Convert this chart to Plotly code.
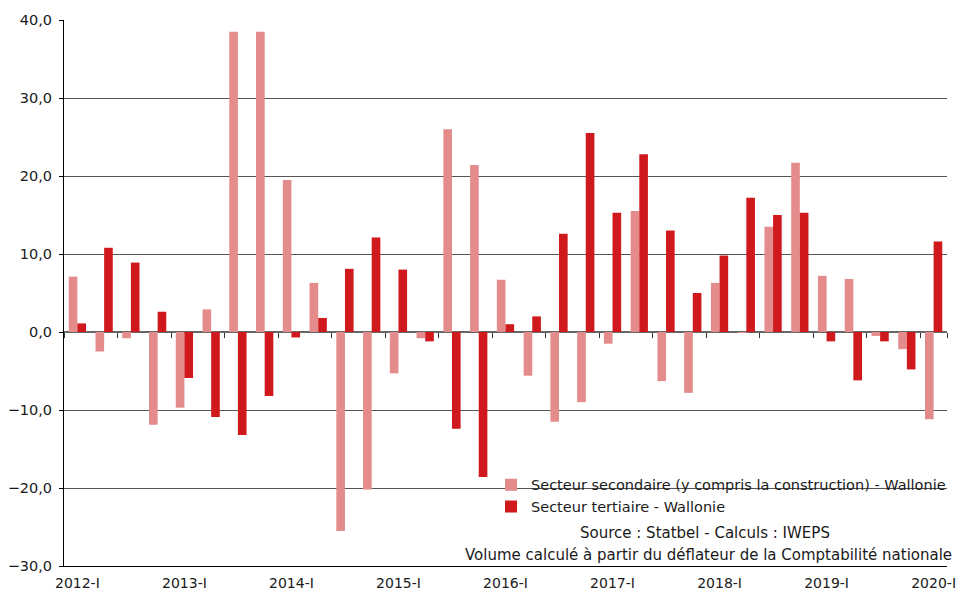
import plotly.graph_objects as go

# quarters 2012-I .. 2020-I
years = list(range(2012, 2021))
quarters = ["I", "II", "III", "IV"]
periods = [f"{y}-{q}" for y in years for q in quarters][:33]

secondaire = [7.1, -2.5, -0.8, -11.9, -9.7, 2.9, 38.5, 38.5,
              19.5, 6.3, -25.5, -20.2, -5.3, -0.8, 26.0, 21.4,
              6.7, -5.6, -11.5, -9.0, -1.5, 15.5, -6.3, -7.8,
              6.3, -0.1, 13.5, 21.7, 7.2, 6.8, -0.5, -2.2, -11.2]
tertiaire = [1.1, 10.8, 8.9, 2.6, -5.9, -10.9, -13.2, -8.2,
             -0.7, 1.8, 8.1, 12.1, 8.0, -1.2, -12.4, -18.6,
             1.0, 2.0, 12.6, 25.5, 15.3, 22.8, 13.0, 5.0,
             9.8, 17.2, 15.0, 15.3, -1.2, -6.2, -1.2, -4.8, 11.6]

tick_vals = periods[::2]

FONT = "DejaVu Sans"

fig = go.Figure()
fig.add_trace(go.Bar(x=periods, y=secondaire, name="Secteur secondaire (y compris la construction) - Wallonie",
                     marker_color="#E48B8B", marker_line_width=0))
fig.add_trace(go.Bar(x=periods, y=tertiaire, name="Secteur tertiaire - Wallonie",
                     marker_color="#CF191C", marker_line_width=0))

# the page body has an 8px margin, so the figure is 8px smaller on each side
fig.update_layout(
    template="none",
    width=958,
    height=586,
    autosize=False,
    margin=dict(l=56, r=19, t=12, b=28, pad=0),
    barmode="group",
    bargap=0.355,
    bargroupgap=0,
    separators=", ",
    font=dict(family=FONT, size=14, color="#1a1a1a"),
    plot_bgcolor="white",
    paper_bgcolor="white",
    showlegend=True,
    legend=dict(x=0.4836, y=0.178, xanchor="left", yanchor="top",
                bgcolor="rgba(0,0,0,0)", font=dict(size=14.5),
                itemsizing="constant", tracegroupgap=0, itemwidth=30),
)

fig.update_xaxes(
    type="category",
    categoryarray=periods,
    range=[-0.5, 32.5],
    tickmode="array",
    tickvals=periods[::4],
    ticktext=periods[::4],
    ticks="",
    ticklabelstandoff=4,
    showgrid=False,
    zeroline=False,
    showline=True,
    linecolor="black",
    linewidth=1,
    automargin=False,
    tickfont=dict(size=14),
)

fig.update_yaxes(
    range=[-30, 40],
    dtick=10,
    tickformat=".1f",
    ticks="outside",
    ticklen=4,
    tickcolor="black",
    ticklabelstandoff=4,
    showline=True,
    linecolor="black",
    linewidth=1,
    gridcolor="#555555",
    gridwidth=1.3,
    zeroline=True,
    zerolinecolor="#666666",
    zerolinewidth=1.5,
    automargin=False,
    tickfont=dict(size=14.5),
)

# secondary axis to draw tick marks on the zero line
fig.update_layout(
    xaxis2=dict(
        type="category",
        categoryarray=periods,
        range=[-0.5, 32.5],
        overlaying="x",
        anchor="free",
        position=3 / 7,
        side="bottom",
        tickmode="array",
        tickvals=tick_vals,
        ticktext=["" for _ in tick_vals],
        tickson="boundaries",
        ticks="outside",
        ticklen=5,
        tickcolor="#333",
        showgrid=False,
        zeroline=False,
        showline=False,
        showticklabels=False,
        automargin=False,
    )
)
fig.add_trace(go.Bar(x=periods, y=[0] * len(periods), xaxis="x2", showlegend=False,
                     hoverinfo="skip", marker_color="rgba(0,0,0,0)"))

# white box behind the legend and notes
fig.add_shape(type="rect", xref="paper", yref="paper", x0=0.4847, x1=1.02, y0=0.006, y1=0.18,
              fillcolor="white", line_width=0, layer="between")

fig.add_annotation(text="Source : Statbel - Calculs : IWEPS", xref="paper", yref="paper",
                   x=(705 - 64) / 883, y=(566 - 533) / 546, xanchor="center", yanchor="middle",
                   showarrow=False, font=dict(size=15))
fig.add_annotation(text="Volume calculé à partir du déflateur de la Comptabilité nationale",
                   xref="paper", yref="paper",
                   x=(708 - 64) / 883, y=(566 - 555) / 546, xanchor="center", yanchor="middle",
                   showarrow=False, font=dict(size=15))

fig.write_html("out.html")
